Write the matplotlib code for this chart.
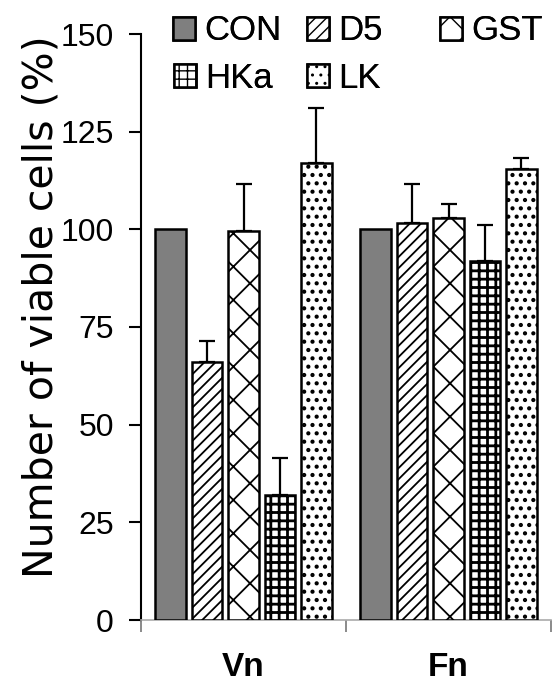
import matplotlib
matplotlib.use("Agg")
import matplotlib.pyplot as plt
import numpy as np

plt.rcParams['font.family'] = ['Liberation Sans', 'DejaVu Sans']

categories = ["Vn", "Fn"]
series = ["CON", "D5", "GST", "HKa", "LK"]
values = {
    "CON": [100, 100],
    "D5": [66, 101.5],
    "GST": [99.5, 103],
    "HKa": [32, 92],
    "LK": [117, 115.5],
}
errors = {
    "CON": [0, 0],
    "D5": [5.5, 10],
    "GST": [12, 3.5],
    "HKa": [9.5, 9],
    "LK": [14, 2.7],
}
yticks = [0, 25, 50, 75, 100, 125, 150]

fills = {"CON": "#7f7f7f", "D5": "white", "GST": "white", "HKa": "white", "LK": "white"}
hatches = {"CON": None, "D5": "///", "GST": "x", "HKa": "++", "LK": ".."}
hatch_lw = {"CON": 1.2, "D5": 1.3, "GST": 1.3, "HKa": 2.0, "LK": 1.8}

W, H = 553, 684
fig = plt.figure(figsize=(W/100, H/100), dpi=100)
ax = fig.add_axes([141/W, 1 - 620/H, (551-141)/W, (620-34)/H])

x = np.arange(len(categories))
slot = 0.178
width = 0.151
handles = {}
for i, s in enumerate(series):
    off = (i - 2) * slot
    with plt.rc_context({"hatch.linewidth": hatch_lw[s]}):
        b = ax.bar(x + off, values[s], width, color=fills[s], edgecolor="black",
                   linewidth=1.8, hatch=hatches[s], label=s, zorder=3)
    handles[s] = b
    err = errors[s]
    if any(e > 0 for e in err):
        ax.errorbar(x + off, values[s], yerr=[np.zeros(len(err)), err], fmt="none",
                    ecolor="black", elinewidth=1.6, capsize=6, capthick=1.6, zorder=2)

ax.set_xlim(-0.5, 1.5)
ax.set_ylim(0, 150)
ax.set_yticks(yticks)
ax.set_yticklabels([str(t) for t in yticks], fontsize=23)
ax.set_xticks(x)
ax.set_xticklabels(categories, fontsize=24, fontweight="bold")
ax.set_xticks([-0.5, 0.5, 1.5], minor=True)
ax.tick_params(axis="x", which="major", length=0, pad=23)
ax.tick_params(axis="x", which="minor", length=8.5, width=1.2, color="#777777")
ax.tick_params(axis="y", length=8.5, width=1.5, pad=11)
ax.spines["top"].set_visible(False)
ax.spines["right"].set_visible(False)
ax.spines["left"].set_linewidth(1.5)
ax.spines["bottom"].set_color("#aaaaaa")
ax.spines["bottom"].set_linewidth(1.2)
ax.set_ylabel("Number of viable cells (%)", fontsize=29.5, family="DejaVu Sans")
ax.yaxis.set_label_coords((62-141)/410, (620-307)/586)

entries = [("CON", 173, 31), ("D5", 307, 31), ("GST", 440, 31),
           ("HKa", 174, 78), ("LK", 307, 78)]
for name, px, py in entries:
    leg = fig.legend([handles[name]], [name], loc="center left",
                     bbox_to_anchor=(px/W, 1 - py/H), frameon=False,
                     fontsize=25, handlelength=0.64, handleheight=0.64,
                     handletextpad=0.25, borderpad=0, borderaxespad=0)
    fig.add_artist(leg)

fig.savefig("out.png", dpi=100)
